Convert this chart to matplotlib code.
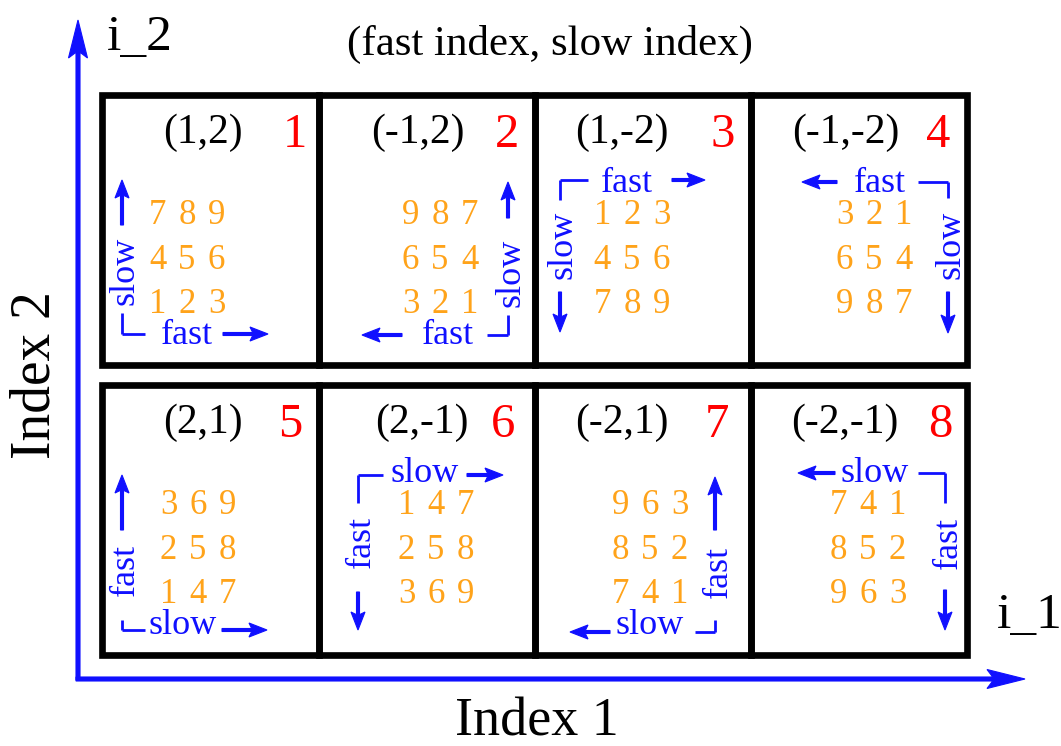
import matplotlib.pyplot as plt
from matplotlib.patches import Rectangle, FancyArrow

# Panel contents
pairs = ["(1,2)", "(-1,2)", "(1,-2)", "(-1,-2)", "(2,1)", "(2,-1)", "(-2,1)", "(-2,-1)"]
panel_ids = ["1", "2", "3", "4", "5", "6", "7", "8"]
grids = [
    ["789", "456", "123"],
    ["987", "654", "321"],
    ["123", "456", "789"],
    ["321", "654", "987"],
    ["369", "258", "147"],
    ["147", "258", "369"],
    ["963", "852", "741"],
    ["741", "852", "963"],
]
h_words = ["fast", "fast", "fast", "fast", "slow", "slow", "slow", "slow"]
v_words = ["slow", "slow", "slow", "slow", "fast", "fast", "fast", "fast"]
corners = ["BL", "BR", "TL", "TR", "BL", "TL", "BR", "TR"]

# Layout (pixels, offsets from each panel's top-left corner)
col_x = [102, 319, 535, 751, 967]
row_y = [(95, 365), (385, 655)]
pair_dx = [101, 99, 87, 95, 101, 103, 87, 94]
num_dx = [193, 188, 188, 187, 188, 184, 182, 189]
dig_dx = [85, 121, 97, 123, 96, 117, 115, 117]
vline_dx = [20, 189, 25, 197, 20, 39, 180, 194]
hword_dx = [85, 129, 92, 129, 81, 106, 115, 124]
harrow_dx = [(121, 166), (83, 43), (137, 170), (86, 51), (120, 165), (148, 184), (75, 35), (84, 47)]
hend_dx = [43, 168, 53, 167, 43, 64, 160, 167]
hy_dy = [239, 240, 85, 87, 245, 90, 247, 88]
vend_dy = [218, 220, 105, 103, 235, 118, 235, 118]
vword_dy = [176, 178, 150, 150, 185, 157, 187, 158]
varrow_dy = [(130, 85), (123, 87), (197, 237), (197, 238), (145, 90), (207, 245), (145, 92), (205, 245)]
dig_rows = [129, 174, 218]
dig_step = 29.5

BLUE = "#1010ff"
ORANGE = "#ffa31a"
RED = "#ff0000"
plt.rcParams['font.family'] = ['Liberation Serif', 'DejaVu Serif']

fig = plt.figure(figsize=(10.61, 7.46), dpi=100)
ax = fig.add_axes([0, 0, 1, 1])
ax.set_xlim(0, 1061)
ax.set_ylim(746, 0)
ax.axis('off')


def arrow(x0, y0, x1, y1, w=3, hw=14, hl=18):
    ax.add_patch(FancyArrow(x0, y0, x1 - x0, y1 - y0, width=w, head_width=hw,
                            head_length=hl, overhang=0.15, length_includes_head=True,
                            color=BLUE, lw=0.8))


for i in range(8):
    r, c = divmod(i, 4)
    x0, x1 = col_x[c], col_x[c + 1]
    y0, y1 = row_y[r]
    ax.add_patch(Rectangle((x0, y0), x1 - x0, y1 - y0, fill=False, ec='black', lw=4.8))

    ax.text(x0 + pair_dx[i], y0 + 48, pairs[i], fontsize=30, ha='center', va='baseline')
    ax.text(x0 + num_dx[i], y0 + 52, panel_ids[i], fontsize=35, color=RED,
            ha='center', va='baseline')
    for k, row in enumerate(grids[i]):
        for j, d in enumerate(row):
            ax.text(x0 + dig_dx[i] + (j - 1) * dig_step, y0 + dig_rows[k], d,
                    fontsize=25, color=ORANGE, ha='center', va='baseline')

    vx = x0 + vline_dx[i]
    hy = y0 + hy_dy[i]
    # bracket corner
    ax.plot([vx, vx], [y0 + vend_dy[i], hy], color=BLUE, lw=2, solid_capstyle='butt')
    ax.plot([vx, x0 + hend_dx[i]], [hy, hy], color=BLUE, lw=2, solid_capstyle='butt')
    # horizontal word and arrow
    base = y0 + (97 if corners[i][0] == 'T' else 249)
    ax.text(x0 + hword_dx[i], base, h_words[i], fontsize=26, color=BLUE,
            ha='center', va='baseline')
    a, b = harrow_dx[i]
    arrow(x0 + a, hy, x0 + b, hy)
    # vertical word and arrow
    ax.text(vx + 3, y0 + vword_dy[i], v_words[i], fontsize=26, color=BLUE,
            rotation=90, ha='center', va='center')
    a, b = varrow_dy[i]
    arrow(vx, y0 + a, vx, y0 + b)

# Index axes
arrow(78, 680, 78, 20, w=4, hw=19, hl=38)
arrow(76, 679, 1025, 679, w=4, hw=19, hl=38)
ax.text(107, 50, "i_2", fontsize=37, ha='left', va='baseline')
ax.text(997, 628, "i_1", fontsize=37, ha='left', va='baseline')
ax.text(550, 55, "(fast index, slow index)", fontsize=31, ha='center', va='baseline')
ax.text(537, 735, "Index 1", fontsize=39, ha='center', va='baseline')
ax.text(35, 375, "Index 2", fontsize=40, rotation=90, ha='center', va='center')

fig.savefig("out.png", dpi=100)
